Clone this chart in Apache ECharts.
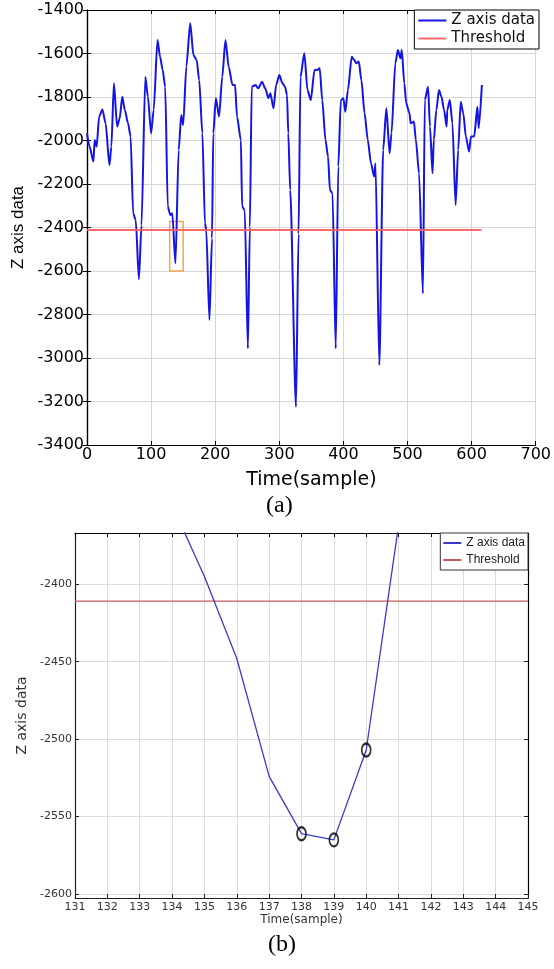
<!DOCTYPE html>
<html>
<head>
<meta charset="utf-8">
<title>Z axis data</title>
<script src="https://cdn.jsdelivr.net/npm/echarts@6/dist/echarts.min.js"></script>
<style>
  html, body { margin: 0; padding: 0; background: #fff; }
  #chart { width: 554px; height: 969px; }
</style>
</head>
<body>
<div id="chart"></div>
<script>
// (a) whole recording, vertices
const sampleA = [0, 4, 10, 12, 15, 19, 24, 29, 35, 38, 42, 47, 51, 55, 59, 64, 68, 72, 76, 81, 85, 91, 95, 100, 104, 110, 114, 118, 122, 126, 130, 133, 138, 143, 147, 150, 155, 161, 166, 171, 175, 180, 184, 186, 191, 195, 197, 201, 206, 211, 216, 221, 227, 231, 234, 240, 242, 246, 251, 254, 257, 263, 267, 273, 278, 283, 286, 291, 295, 300, 305, 309, 312, 314, 317, 326, 330, 333, 339, 344, 349, 355, 359, 363, 367, 372, 376, 379, 383, 388, 392, 396, 400, 403, 407, 413, 417, 420, 424, 428, 433, 438, 443, 448, 450, 456, 462, 467, 472, 475, 481, 485, 489, 491, 495, 498, 503, 505, 510, 513, 518, 524, 527, 532, 535, 539, 541, 545, 549, 553, 557, 561, 562, 566, 570, 575, 579, 583, 587, 591, 596, 599, 604, 609, 611, 616]
const valueA = [-1967, -2028, -2097, -1998, -2028, -1890, -1857, -1921, -2113, -2028, -1737, -1936, -1898, -1799, -1860, -1921, -1982, -2335, -2366, -2638, -2390, -1707, -1799, -1967, -1860, -1538, -1615, -1676, -1753, -2304, -2343, -2335, -2565, -2044, -1883, -1929, -1660, -1461, -1607, -1630, -1722, -1967, -2381, -2411, -2825, -2450, -1967, -1806, -1890, -1707, -1538, -1661, -1745, -1745, -1890, -1998, -2304, -2320, -2956, -2400, -1753, -1745, -1760, -1730, -1760, -1806, -1783, -1852, -1745, -1699, -1737, -1753, -1791, -1967, -2228, -3224, -2430, -1707, -1599, -1768, -1814, -1676, -1676, -1668, -1814, -1998, -2074, -2228, -2243, -2956, -2120, -1814, -1806, -1868, -1768, -1615, -1630, -1645, -1637, -1722, -1875, -1998, -2105, -2166, -2105, -3032, -2044, -1852, -2059, -1967, -1645, -1584, -1622, -1584, -1737, -1829, -1875, -1921, -1913, -1998, -2151, -2703, -1814, -1753, -1936, -2151, -1998, -1860, -1768, -1799, -1860, -1936, -1860, -1814, -1921, -2297, -2044, -1822, -1875, -1982, -2051, -1982, -1982, -1845, -1944, -1745]

// threshold and the zoomed window marked in (a)
const threshold = -2411
const thresholdEndA = 615
const zoomBox = [[129, -2372], [150, -2600]]

// (b) zoom around sample 138
const sampleB = [134, 135, 136, 137, 138, 139, 140, 141]
const valueB = [-2349, -2395, -2448, -2524, -2561, -2565, -2507, -2362]
const markedB = [138, 139, 140]
const ticksB = [-2600, -2550, -2500, -2450, -2400]

const chart = echarts.init(document.getElementById('chart'))

const sans = 'DejaVu Sans'
const arial = 'Liberation Sans'
const plain = v => String(v)

const lineA = sampleA.map((x, i) => [x, valueA[i]])
const lineB = sampleB.map((x, i) => [x, valueB[i]])
const circlesB = markedB.map(x => [x, valueB[sampleB.indexOf(x)]])

function boxAxis(gridIndex, position, extra) {
  // ticks only, for the top/right sides of the box
  return Object.assign({
    type: 'value',
    gridIndex: gridIndex,
    position: position,
    axisLine: { show: true, lineStyle: { color: '#000', width: 1.2 } },
    axisTick: { show: true, inside: true, length: 4, lineStyle: { color: '#000' } },
    axisLabel: { show: false },
    splitLine: { show: false }
  }, extra)
}

chart.setOption({
  animation: false,
  backgroundColor: '#fff',
  grid: [
    { left: 87, top: 10, width: 452, height: 435 },
    { left: 75, top: 533, width: 453, height: 365 }
  ],
  legend: [{
    orient: 'vertical',
    right: 15,
    top: 10,
    backgroundColor: '#fff',
    borderColor: '#000',
    borderWidth: 1,
    borderRadius: 0,
    padding: [2, 4, 2, 4],
    icon: 'rect',
    itemWidth: 28,
    itemHeight: 2,
    itemGap: 1,
    itemTextGap: 3,
    textStyle: { fontFamily: sans, fontSize: 15, color: '#111', lineHeight: 17 },
    data: [
      { name: 'Z axis data', itemStyle: { color: '#1414e6' } },
      { name: 'Threshold', itemStyle: { color: '#ff6a6a' } }
    ]
  }, {
    orient: 'vertical',
    right: 26,
    top: 533,
    backgroundColor: '#fff',
    borderColor: '#333',
    borderWidth: 1,
    borderRadius: 0,
    padding: [2, 3, 2, 3],
    icon: 'rect',
    itemWidth: 18,
    itemHeight: 2,
    itemGap: 1,
    itemTextGap: 2,
    textStyle: { fontFamily: arial, fontSize: 12, color: '#222', lineHeight: 16 },
    data: [
      { name: 'Z axis data', itemStyle: { color: '#3a3acc' } },
      { name: 'Threshold', itemStyle: { color: '#c85a5a' } }
    ]
  }],
  xAxis: [{
    type: 'value',
    gridIndex: 0,
    min: 0,
    max: 700,
    interval: 100,
    axisLine: { show: true, onZero: false, lineStyle: { color: '#000', width: 1.2 } },
    axisTick: { inside: true, length: 4, lineStyle: { color: '#000' } },
    axisLabel: { fontFamily: sans, fontSize: 16, color: '#000', margin: 2, formatter: plain },
    splitLine: { show: true, lineStyle: { color: '#d6d6d6', width: 1 } },
    name: 'Time(sample)',
    nameLocation: 'middle',
    nameGap: 26,
    nameTextStyle: { fontFamily: sans, fontSize: 19, color: '#000' }
  },
  boxAxis(0, 'top', { min: 0, max: 700, interval: 100 }),
  {
    type: 'value',
    gridIndex: 1,
    min: 131,
    max: 145,
    interval: 1,
    axisLine: { show: true, onZero: false, lineStyle: { color: '#222', width: 1.2 } },
    axisTick: { inside: true, length: 4, lineStyle: { color: '#222' } },
    axisLabel: { fontFamily: sans, fontSize: 11, color: '#333', margin: 4, formatter: plain },
    splitLine: { show: true, lineStyle: { color: '#dcdcdc', width: 1 } },
    name: 'Time(sample)',
    nameLocation: 'middle',
    nameGap: 16,
    nameTextStyle: { fontFamily: sans, fontSize: 12, color: '#333' }
  },
  boxAxis(1, 'top', { min: 131, max: 145, interval: 1 })],
  yAxis: [{
    type: 'value',
    gridIndex: 0,
    min: -3400,
    max: -1400,
    interval: 200,
    axisLine: { show: true, onZero: false, lineStyle: { color: '#000', width: 1.2 } },
    axisTick: { show: true, inside: true, length: 4, lineStyle: { color: '#000' } },
    axisLabel: { fontFamily: sans, fontSize: 16, color: '#000', margin: 3, formatter: plain },
    splitLine: { show: true, lineStyle: { color: '#d6d6d6', width: 1 } },
    name: 'Z axis data',
    nameLocation: 'middle',
    nameGap: 52,
    nameTextStyle: { fontFamily: arial, fontSize: 17, color: '#000' }
  },
  boxAxis(0, 'right', { min: -3400, max: -1400, interval: 200 }),
  {
    type: 'value',
    gridIndex: 1,
    min: -2602.5,
    max: -2367,
    axisLine: { show: true, onZero: false, lineStyle: { color: '#222', width: 1.2 } },
    axisTick: { show: true, inside: true, length: 4, customValues: ticksB, lineStyle: { color: '#222' } },
    axisLabel: { fontFamily: sans, fontSize: 11, color: '#333', margin: 3, customValues: ticksB, formatter: plain },
    splitLine: { show: true, lineStyle: { color: '#dcdcdc', width: 1 } },
    name: 'Z axis data',
    nameLocation: 'middle',
    nameGap: 33,
    nameTextStyle: { fontFamily: sans, fontSize: 14, color: '#333' }
  },
  boxAxis(1, 'right', { min: -2602.5, max: -2367, axisTick: { show: true, inside: true, length: 4, customValues: ticksB, lineStyle: { color: '#222' } } })],
  series: [{
    name: 'Z axis data',
    type: 'line',
    xAxisIndex: 0,
    yAxisIndex: 0,
    data: lineA,
    symbol: 'none',
    smooth: 0.25,
    smoothMonotone: 'x',
    lineStyle: { color: '#1414e6', width: 2 },
    itemStyle: { color: '#1414e6' },
    z: 3
  }, {
    name: 'Threshold',
    type: 'line',
    xAxisIndex: 0,
    yAxisIndex: 0,
    data: [[0, threshold], [thresholdEndA, threshold]],
    symbol: 'none',
    lineStyle: { color: '#ff5a5a', width: 2, opacity: 0.9 },
    itemStyle: { color: '#ff5a5a' },
    z: 4,
    markArea: {
      silent: true,
      itemStyle: { color: 'rgba(0,0,0,0)', borderColor: '#f5a54f', borderWidth: 1.5 },
      data: [[{ coord: zoomBox[0] }, { coord: zoomBox[1] }]]
    }
  }, {
    name: 'Z axis data',
    type: 'line',
    xAxisIndex: 2,
    yAxisIndex: 2,
    data: lineB,
    symbol: 'none',
    lineStyle: { color: '#3a3acc', width: 1.3 },
    itemStyle: { color: '#3a3acc' },
    z: 3
  }, {
    name: 'Threshold',
    type: 'line',
    xAxisIndex: 2,
    yAxisIndex: 2,
    data: [[131, threshold], [145, threshold]],
    symbol: 'none',
    lineStyle: { color: '#c85a5a', width: 1.3 },
    itemStyle: { color: '#c85a5a' },
    z: 2
  }, {
    name: 'marked',
    type: 'scatter',
    xAxisIndex: 2,
    yAxisIndex: 2,
    data: circlesB,
    symbol: 'circle',
    symbolSize: [9, 13],
    itemStyle: { color: 'rgba(0,0,0,0)', borderColor: '#000', borderWidth: 2 },
    z: 5
  }],
  graphic: [{
    type: 'text',
    left: 266,
    top: 494,
    style: { text: '(a)', font: '24px "Liberation Serif"', fill: '#000' }
  }, {
    type: 'text',
    left: 268,
    top: 933,
    style: { text: '(b)', font: '24px "Liberation Serif"', fill: '#000' }
  }]
})
</script>
</body>
</html>
